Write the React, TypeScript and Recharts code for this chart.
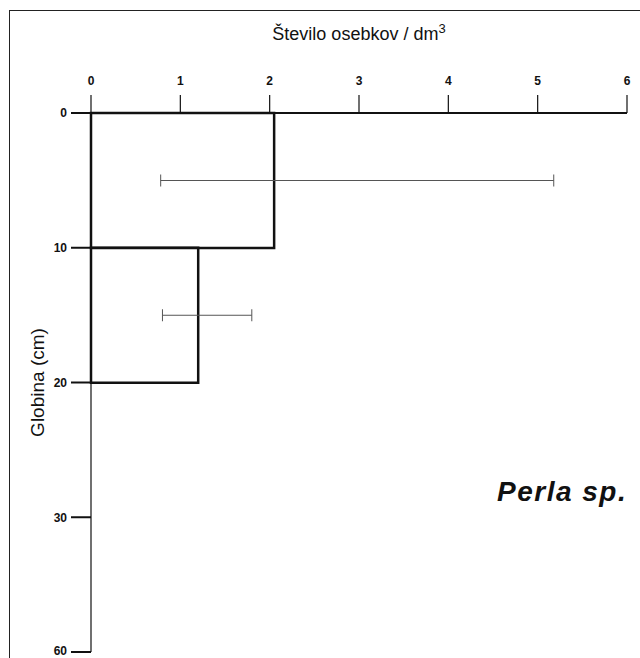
import { Bar, ComposedChart, ErrorBar, Label, XAxis, YAxis } from "recharts";

// depth layers (10 cm each), placed on the tick-slot scale of the depth axis
const layers = ["0-10", "10-20"];
const layerPos = [0.5, 1.5];
const density = [2.05, 1.2];
const errLow = [0.78, 0.8];
const errHigh = [5.18, 1.8];

const depthTickLabels = ["0", "10", "20", "30", "60"];
const countTicks = [0, 1, 2, 3, 4, 5, 6];

const data = layers.map((layer, i) => ({
  layer,
  pos: layerPos[i],
  density: density[i],
  err: [density[i] - errLow[i], errHigh[i] - density[i]],
}));

const font = '"Liberation Sans", Arial, sans-serif';
const ink = "#111";

function XTitle({ viewBox }: any) {
  if (!viewBox) return null;
  const cx = viewBox.x + viewBox.width / 2;
  return (
    <text x={cx} y={viewBox.y + 40} textAnchor="middle" fontFamily={font} fontSize={18} fill={ink}>
      Število osebkov / dm
      <tspan dy={-7} fontSize={13}>3</tspan>
    </text>
  );
}

function YTitle({ viewBox }: any) {
  if (!viewBox) return null;
  const x = 37;
  const y = viewBox.y + viewBox.height / 2;
  return (
    <text
      x={x}
      y={y}
      transform={`rotate(-90 ${x} ${y})`}
      textAnchor="middle"
      dominantBaseline="central"
      fontFamily={font}
      fontSize={19}
      fill={ink}
    >
      Globina (cm)
    </text>
  );
}

export default function App() {
  const tick = { fontFamily: font, fontSize: 12, fontWeight: 700, fill: ink };
  return (
    <div
      style={{
        position: "fixed",
        left: 0,
        top: 0,
        width: 640,
        height: 658,
        overflow: "hidden",
        background: "#fff",
      }}
    >
      <div
        style={{
          position: "absolute",
          left: 9,
          top: 10,
          width: 640,
          height: 660,
          borderLeft: "1.5px solid #222",
          borderTop: "1.5px solid #222",
        }}
      />
      <ComposedChart
        layout="vertical"
        width={640}
        height={658}
        data={data}
        margin={{ top: 0, right: 13, bottom: 6, left: 0 }}
        barCategoryGap={0}
        barGap={0}
        style={{ position: "absolute", left: 0, top: 0 }}
      >
        <XAxis
          type="number"
          orientation="top"
          domain={[0, 6]}
          ticks={countTicks}
          height={113}
          tickSize={18}
          tickMargin={10}
          tick={tick}
          axisLine={{ stroke: ink, strokeWidth: 2 }}
          tickLine={{ stroke: ink, strokeWidth: 1.2 }}
        >
          <Label content={<XTitle />} />
        </XAxis>
        <YAxis
          type="number"
          dataKey="pos"
          domain={[0, 4]}
          ticks={[0, 1, 2, 3, 4]}
          tickFormatter={(v: number) => depthTickLabels[v]}
          width={91}
          tickSize={20}
          tickMargin={4}
          tick={tick}
          axisLine={{ stroke: ink, strokeWidth: 1.2 }}
          tickLine={{ stroke: ink, strokeWidth: 2 }}
        >
          <Label content={<YTitle />} />
        </YAxis>
        <Bar
          dataKey="density"
          fill="none"
          stroke={ink}
          strokeWidth={2.5}
          isAnimationActive={false}
        >
          <ErrorBar dataKey="err" direction="x" width={6} stroke="#555" strokeWidth={1} />
        </Bar>
      </ComposedChart>
      <div
        style={{
          position: "absolute",
          left: 497,
          top: 478,
          fontFamily: font,
          fontSize: 28,
          lineHeight: "28px",
          letterSpacing: 1.5,
          fontWeight: 700,
          fontStyle: "italic",
          color: ink,
          whiteSpace: "nowrap",
        }}
      >
        Perla sp.
      </div>
    </div>
  );
}
